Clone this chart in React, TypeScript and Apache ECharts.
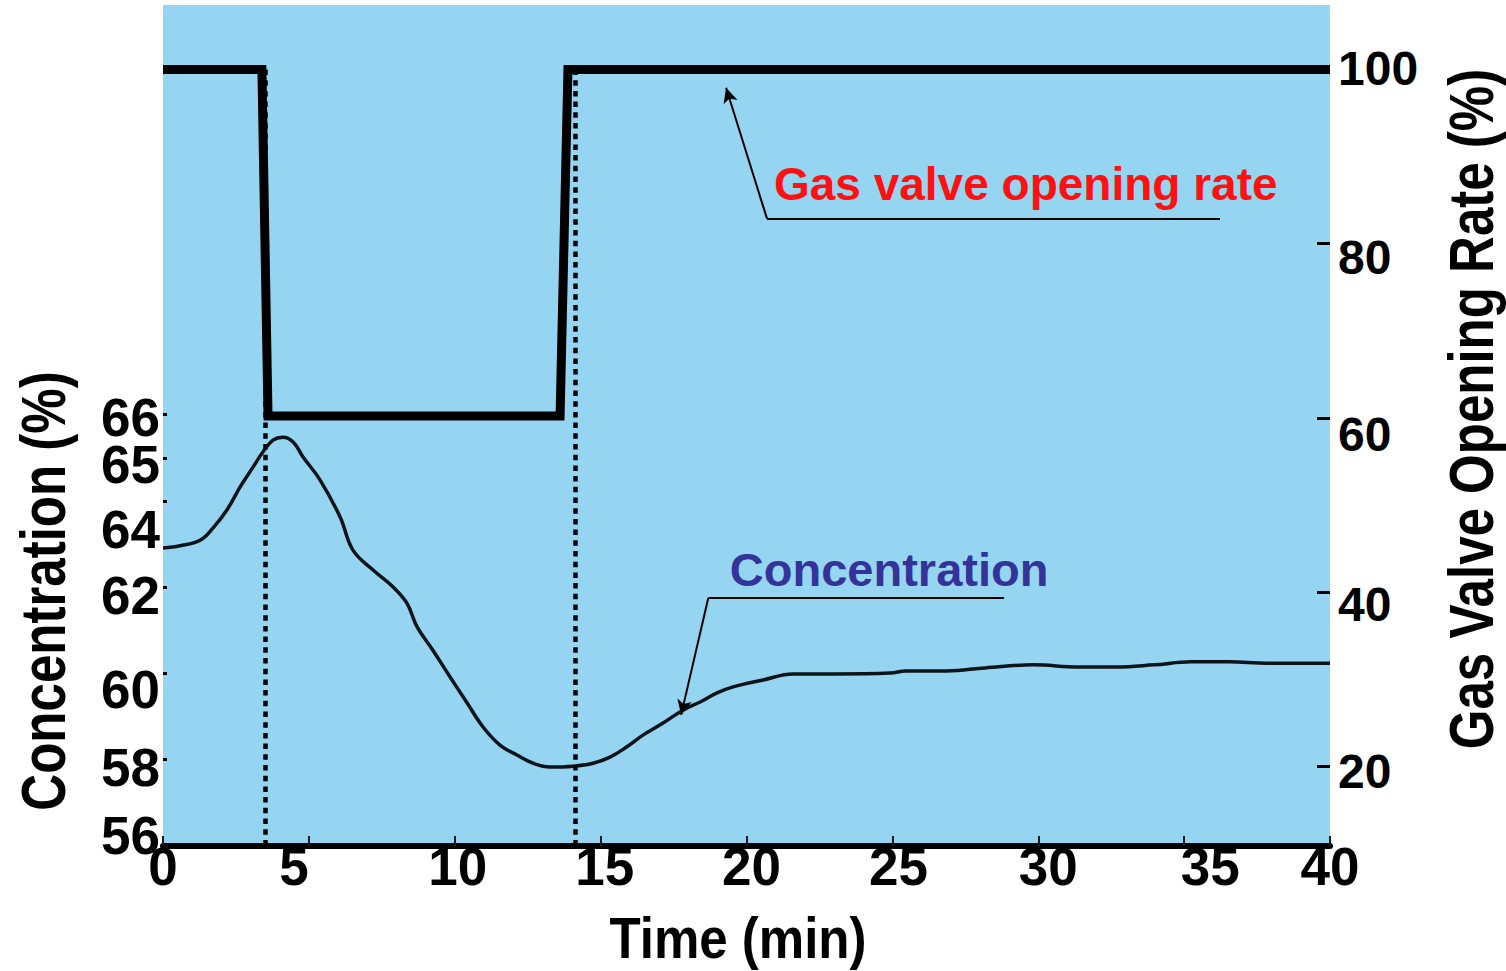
import React, { useEffect, useRef } from "react";
import * as echarts from "echarts";

// Concentration trace (time in min, concentration in %)
const timeMin = [0, 0.58, 1.27, 1.71, 2.19, 2.64, 3.09, 3.43, 3.77, 4.11, 4.46, 4.8, 5.38, 6.07, 6.51, 7.2, 7.88, 8.36, 8.71, 9.25, 9.84, 10.42, 10.97, 11.55, 12.13, 12.68, 13.27, 14.05, 14.74, 15.32, 15.9, 16.45, 17.14, 17.82, 18.41, 18.99, 19.54, 20.57, 21.59, 23.0, 24.92, 25.47, 26.87, 28.18, 29.82, 31.4, 32.67, 33.97, 35.24, 36.54, 37.84, 39.11, 40];
const concentration = [62.91, 62.96, 63.09, 63.37, 63.79, 64.32, 64.79, 65.14, 65.41, 65.48, 65.37, 65.02, 64.49, 63.63, 62.86, 62.4, 62.01, 61.63, 61.08, 60.54, 59.92, 59.32, 58.76, 58.34, 58.11, 57.92, 57.83, 57.85, 57.92, 58.06, 58.3, 58.57, 58.85, 59.15, 59.34, 59.55, 59.69, 59.85, 59.99, 59.99, 60.01, 60.06, 60.06, 60.13, 60.2, 60.15, 60.15, 60.2, 60.27, 60.27, 60.24, 60.24, 60.24];

// Gas valve opening rate (time in min, rate in %)
const valveTime = [0, 3.39, 3.6, 13.61, 13.88, 40];
const valveRate = [100, 100, 60.2, 60.2, 100, 100];

// Moments when the valve is switched (dotted lines)
const switchTimes = [3.5, 14.14];

// Tick labels
const timeTicks = [0, 5, 10, 15, 20, 25, 30, 35, 40];
const concTicks = [56, 58, 60, 62, 64, 65, 66];
const rateTicks = [20, 40, 60, 80, 100];

// Annotation anchors in data coordinates [time, value]
const valveNoteText = "Gas valve opening rate";
const valveNoteTip = [19.3, 97.9];
const valveNoteKnee = [20.7, 82.9];
const valveNoteEnd = [36.23, 82.9];
const valveNoteLabel = [20.94, 86.85];

const concNoteText = "Concentration";
const concNoteTip = [17.76, 59.04];
const concNoteKnee = [18.69, 61.75];
const concNoteEnd = [28.83, 61.75];
const concNoteLabel = [19.43, 62.4];

// Axis titles
const xTitle = "Time (min)";
const yLeftTitle = "Concentration (%)";
const yRightTitle = "Gas Valve Opening Rate (%)";

const CONC_MIN = 56;
const CONC_MAX = 75.5;
const RATE_MIN = 10.81;
const RATE_MAX = 107.41;

const FONT = '"Liberation Sans", Arial, sans-serif';

// Small offsets (px) of the printed tick labels from their ticks, as in the original figure
const timeLabelShift = [0, -15, 3, 4, 5, 6, 10, 26, 0];
const concLabelShift = [-11, 8, 16, 8, 29, 7, 3];
const rateLabelShift = [6, 13, 17, 14, -1];

function richFor(shifts: number[], size: number, lineHeight: number, horizontal: boolean) {
  const rich: Record<string, any> = {};
  shifts.forEach((s, i) => {
    const d = Math.abs(s) * 2;
    let padding: number[];
    if (horizontal) padding = s >= 0 ? [0, 0, 0, d] : [0, d, 0, 0];
    else padding = s >= 0 ? [d, 0, 0, 0] : [0, 0, d, 0];
    rich["t" + i] = {
      fontFamily: FONT,
      fontWeight: "bold",
      fontSize: size,
      lineHeight,
      color: "#000",
      padding,
    };
  });
  return rich;
}

// Only tick values get a label; any other value (e.g. the axis end) stays blank
function labelFormatter(ticks: number[]) {
  return (v: number) => {
    const i = ticks.findIndex((t) => Math.abs(t - v) < 1e-6);
    return i < 0 ? "" : `{t${i}|${v}}`;
  };
}

export default function App() {
  const ref = useRef<HTMLDivElement>(null);

  useEffect(() => {
    if (!ref.current) return;
    const chart = echarts.init(ref.current, null, { renderer: "svg" });

    const labelStyle = (size: number, lineHeight: number) => ({
      color: "#000",
      fontFamily: FONT,
      fontWeight: "bold" as const,
      fontSize: size,
      lineHeight,
      hideOverlap: false,
    });

    const leader = (tip: number[], knee: number[], end: number[]) => [
      [
        { coord: knee, symbol: "none" },
        { coord: tip, symbol: "arrow", symbolSize: [11, 15] },
      ],
      [
        { coord: knee, symbol: "none" },
        { coord: end, symbol: "none" },
      ],
    ];

    chart.setOption({
      animation: false,
      grid: {
        left: 163,
        right: 176,
        top: 5,
        bottom: 125,
        outerBoundsMode: "none",
        containLabel: false,
        show: true,
        backgroundColor: "#96d5f1",
        borderWidth: 0,
      },
      xAxis: {
        type: "value",
        min: 0,
        max: 40,
        interval: 5,
        axisLine: { show: true, onZero: false, lineStyle: { color: "#000", width: 6 } },
        axisTick: { show: true, inside: true, length: 10, lineStyle: { color: "#1a1a1a", width: 2 } },
        axisLabel: {
          ...labelStyle(53, 40),
          showMinLabel: true,
          showMaxLabel: true,
          margin: 0,
          formatter: labelFormatter(timeTicks),
          rich: richFor(timeLabelShift, 53, 40, true),
        },
        splitLine: { show: false },
      },
      yAxis: [
        {
          type: "value",
          position: "left",
          min: CONC_MIN,
          max: CONC_MAX,
          axisLine: { show: false },
          axisTick: { show: true, inside: true, length: 4, customValues: concTicks, lineStyle: { color: "#000", width: 3 } },
          axisLabel: {
            ...labelStyle(53, 30),
            margin: 3,
            customValues: [...concTicks, CONC_MAX],
            formatter: labelFormatter(concTicks),
            rich: richFor(concLabelShift, 53, 30, false),
          },
          splitLine: { show: false },
        },
        {
          type: "value",
          position: "right",
          min: RATE_MIN,
          max: RATE_MAX,
          axisLine: { show: false },
          axisTick: { show: true, inside: true, length: 13, customValues: rateTicks, lineStyle: { color: "#000", width: 3 } },
          axisLabel: {
            ...labelStyle(48, 30),
            margin: 8,
            customValues: [...rateTicks, RATE_MAX],
            formatter: labelFormatter(rateTicks),
            rich: richFor(rateLabelShift, 48, 30, false),
          },
          splitLine: { show: false },
        },
      ],
      series: [
        {
          name: "Gas valve opening rate",
          type: "line",
          yAxisIndex: 1,
          data: valveTime.map((t, i) => [t, valveRate[i]]),
          showSymbol: false,
          lineStyle: { color: "#000", width: 9, join: "miter" },
          z: 3,
          markLine: {
            silent: true,
            symbol: "none",
            label: { show: false },
            data: [
              ...switchTimes.map((t) => [
                { coord: [t, 100], lineStyle: { color: "#000", width: 4.5, type: [5.5, 5.2] } },
                { coord: [t, RATE_MIN] },
              ]),
              ...leader(valveNoteTip, valveNoteKnee, valveNoteEnd),
            ],
            lineStyle: { color: "#000", width: 2, type: "solid" },
          },
        },
        {
          name: "Concentration",
          type: "line",
          yAxisIndex: 0,
          data: timeMin.map((t, i) => [t, concentration[i]]),
          showSymbol: false,
          smooth: 0.4,
          lineStyle: { color: "#0d1419", width: 3.5 },
          z: 4,
          markLine: {
            silent: true,
            symbol: "none",
            label: { show: false },
            lineStyle: { color: "#000", width: 2, type: "solid" },
            data: leader(concNoteTip, concNoteKnee, concNoteEnd),
          },
        },
      ],
    });

    const px1 = chart.convertToPixel({ xAxisIndex: 0, yAxisIndex: 1 }, valveNoteLabel) as number[];
    const px0 = chart.convertToPixel({ xAxisIndex: 0, yAxisIndex: 0 }, concNoteLabel) as number[];

    const titleStyle = (text: string, size: number) => ({
      text,
      fill: "#000",
      fontFamily: FONT,
      fontWeight: "bold",
      fontSize: size,
      lineHeight: 46,
      align: "center",
      verticalAlign: "middle",
    });

    chart.setOption({
      graphic: [
        {
          type: "text",
          x: px1[0],
          y: px1[1],
          z: 10,
          style: {
            text: valveNoteText,
            fill: "#ff1111",
            fontFamily: FONT,
            fontWeight: "bold",
            fontSize: 46,
            align: "left",
            verticalAlign: "middle",
          },
        },
        {
          type: "text",
          x: px0[0],
          y: px0[1],
          z: 10,
          style: {
            text: concNoteText,
            fill: "#333399",
            fontFamily: FONT,
            fontWeight: "bold",
            fontSize: 47,
            align: "left",
            verticalAlign: "middle",
          },
        },
        {
          type: "text",
          x: 738,
          y: 938,
          scaleX: 0.88,
          style: titleStyle(xTitle, 58),
        },
        {
          type: "text",
          x: 43,
          y: 591,
          rotation: Math.PI / 2,
          scaleX: 0.81,
          style: titleStyle(yLeftTitle, 63),
        },
        {
          type: "text",
          x: 1471,
          y: 409,
          rotation: Math.PI / 2,
          scaleX: 0.81,
          style: titleStyle(yRightTitle, 63),
        },
      ],
    });

    return () => chart.dispose();
  }, []);

  return (
    <div
      ref={ref}
      style={{ position: "absolute", left: 0, top: 0, width: 1506, height: 971 }}
    />
  );
}
